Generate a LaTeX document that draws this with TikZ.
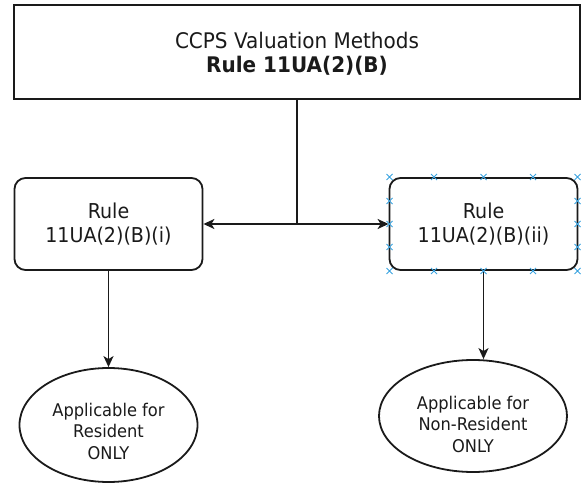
\documentclass[tikz,border=0pt]{standalone}
\usepackage{fontspec}
\setmainfont{DejaVu Sans}[FakeStretch=0.93]
\usetikzlibrary{shapes.geometric,arrows.meta}
\definecolor{ink}{HTML}{1A1A1A}
\definecolor{handle}{HTML}{3BA3E0}
\begin{document}
\begin{tikzpicture}[x=1pt,y=-1pt,
  topbox/.style={draw=ink, line width=1.8pt, minimum width=566pt, minimum height=94pt, inner sep=0pt},
  toptext/.style={align=center, font=\fontsize{21.5}{23.5}\selectfont, text=ink, inner sep=0pt},
  rulebox/.style={draw=ink, line width=1.8pt, rounded corners=11pt, minimum width=188pt, minimum height=92pt, inner sep=0pt, align=center, font=\fontsize{20.5}{24}\selectfont, text=ink},
  endell/.style={draw=ink, line width=1.8pt, ellipse, minimum height=114pt, inner sep=0pt},
  elltext/.style={align=center, font=\fontsize{17.5}{21.5}\selectfont, text=ink, inner sep=0pt},
  link/.style={draw=ink, line width=1.8pt},
  conn/.style={link, -{Stealth[length=11pt,width=10pt,inset=3pt]}},
  hmark/.style={draw=handle, line width=0.9pt}
]
\useasboundingbox (0,0) rectangle (581,492);
\node[topbox] (top) at (297,52) {};
\node[toptext] (toplbl) at (297,54) {CCPS Valuation Methods\\\textbf{Rule 11UA(2)(B)}};
\node[rulebox] (left) at (108.5,224) {Rule\\11UA(2)(B)(i)};
\node[rulebox] (right) at (483.5,224) {Rule\\11UA(2)(B)(ii)};
\node[endell, minimum width=178pt] (lres) at (108.5,425) {};
\node[elltext] (lrestxt) at (108.5,431) {Applicable for\\Resident\\ONLY};
\node[endell, minimum width=188pt, minimum height=112pt] (rres) at (473,416) {};
\node[elltext] (rrestxt) at (473,424) {Applicable for\\Non-Resident\\ONLY};
\coordinate (j) at (top.south |- left.east);
\draw[link] (top.south) -- (j);
\draw[conn] (j) -- (left.east);
\draw[conn] (j) -- (right.west);
\draw[conn] (left.south) -- (lres.north);
\draw[conn] (right.south) -- (right.south |- rres.north);
% selection handles
\foreach \px/\py in {389.5/177, 434/177, 483.5/177, 533/177, 577.5/177,
                     389.5/271, 434/271, 483.5/271, 533/271, 577.5/271,
                     389.5/201, 389.5/224, 389.5/247,
                     577.5/201, 577.5/224, 577.5/247} {
  \draw[hmark] (\px-3,\py-3) -- (\px+3,\py+3) (\px-3,\py+3) -- (\px+3,\py-3);
}
\end{tikzpicture}
\end{document}
